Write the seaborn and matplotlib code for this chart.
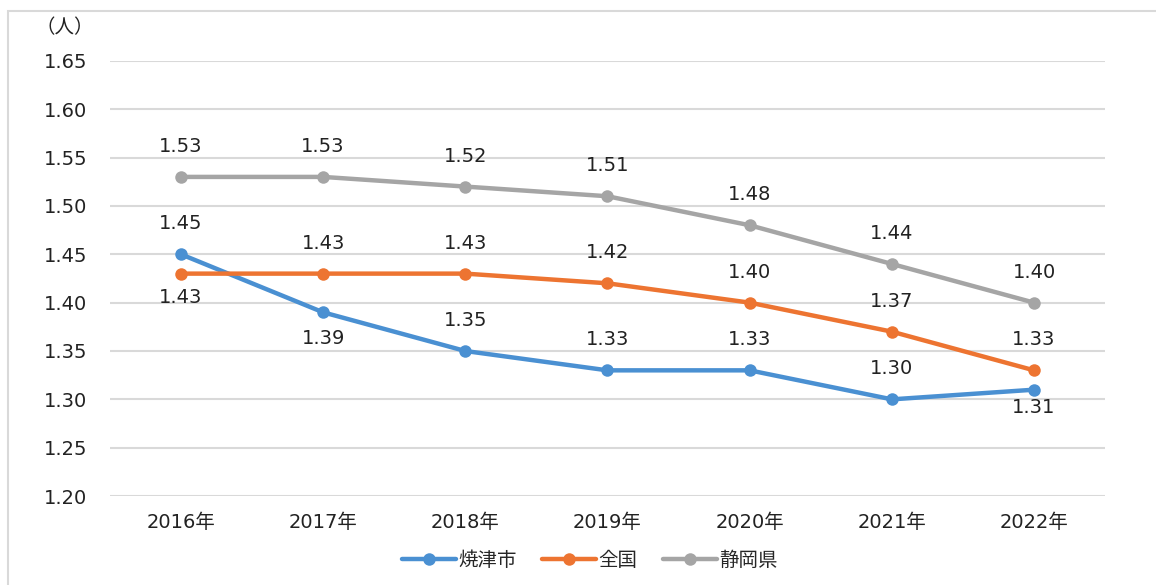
import matplotlib
matplotlib.use("Agg")
import matplotlib.pyplot as plt
import seaborn as sns
import pandas as pd
from matplotlib.patches import Rectangle

years = ["2016年", "2017年", "2018年", "2019年", "2020年", "2021年", "2022年"]
yaizu = [1.45, 1.39, 1.35, 1.33, 1.33, 1.30, 1.31]
zenkoku = [1.43, 1.43, 1.43, 1.42, 1.40, 1.37, 1.33]
shizuoka = [1.53, 1.53, 1.52, 1.51, 1.48, 1.44, 1.40]
series_names = ["焼津市", "全国", "静岡県"]
colors = ["#4A90D2", "#ED7431", "#A5A5A5"]
yticks = [1.20, 1.25, 1.30, 1.35, 1.40, 1.45, 1.50, 1.55, 1.60, 1.65]
# label offsets in points (positive above, negative below)
off_yaizu = [22, -19, 22, 22, 22, 22, -12.5]
off_zenkoku = [-17.5, 22, 22, 22, 22, 22, 22]
off_shizuoka = [22, 22, 22, 22, 22, 22, 22]

sns.set_theme(style="white")
plt.rcParams['font.family'] = ['DejaVu Sans', 'Noto Sans CJK JP']

rows = []
for name, vals in zip(series_names, [yaizu, zenkoku, shizuoka]):
    for i, (yr, v) in enumerate(zip(years, vals)):
        rows.append({"x": i, "year": yr, "value": v, "series": name})
df = pd.DataFrame(rows)

fig = plt.figure(figsize=(11.56, 5.85), dpi=100)
ax = fig.add_axes([0.095, 0.152, 0.861, 0.744])

sns.lineplot(data=df, x="x", y="value", hue="series", hue_order=series_names,
             palette=colors, marker="o", markersize=9, markeredgewidth=0,
             linewidth=3.2, ax=ax, legend=True)

for vals, offs in [(yaizu, off_yaizu), (zenkoku, off_zenkoku), (shizuoka, off_shizuoka)]:
    for i, (v, o) in enumerate(zip(vals, offs)):
        ax.annotate(f"{v:.2f}", (i, v), xytext=(0, o), textcoords="offset points",
                    ha="center", va="center", fontsize=14, color="#222222")

ax.set_xlim(-0.5, 6.5)
ax.set_ylim(1.20, 1.65)
ax.set_yticks(yticks)
ax.set_yticklabels([f"{t:.2f}" for t in yticks])
ax.set_xticks(range(len(years)))
ax.set_xticklabels(years)
ax.tick_params(axis="y", length=0, pad=16, labelsize=14, labelcolor="#222222")
ax.tick_params(axis="x", length=0, pad=12, labelsize=14, labelcolor="#222222")
ax.set_xlabel("")
ax.set_ylabel("")
ax.grid(axis="y", color="#D9D9D9", linewidth=1.5)
ax.set_axisbelow(True)
for s in ax.spines.values():
    s.set_visible(False)

leg = ax.legend(loc="upper center", bbox_to_anchor=(0.482, -0.085), ncol=3, frameon=False,
                fontsize=14, handlelength=2.8, columnspacing=1.3, handletextpad=0.1)
for h in leg.legend_handles:
    h.set_linewidth(3.2)

fig.text(65 / 1156, 1 - 28 / 585, "（人）", ha="center", va="center", fontsize=14,
         color="#222222", family=['Noto Sans CJK JP', 'DejaVu Sans'])

fig.patches.append(Rectangle((8 / 1156, -0.05), 1.2, (585 - 11) / 585 + 0.05,
                             transform=fig.transFigure, fill=False,
                             edgecolor="#D9D9D9", linewidth=1.5))

fig.savefig("out.png", dpi=100)
